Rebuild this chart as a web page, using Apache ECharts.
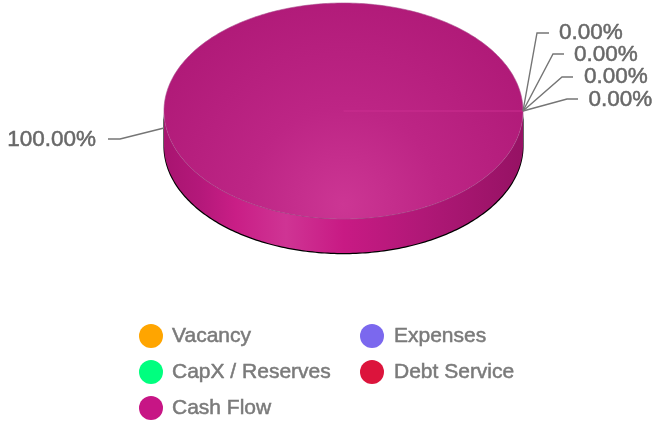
<!DOCTYPE html>
<html><head><meta charset="utf-8">
<style>html,body{margin:0;padding:0;background:#fff}#c{width:653px;height:421px}</style>
<script src="https://cdn.jsdelivr.net/npm/echarts@6/dist/echarts.min.js"></script>
</head><body><div id="c"></div>
<script>
const categories = ['Vacancy', 'Expenses', 'CapX / Reserves', 'Debt Service', 'Cash Flow'];
const values = [0, 0, 0, 0, 100];
const colors = ['#FFA500', '#7B68EE', '#00FF7F', '#DC143C', '#C71585'];
const legendLeft = ['Vacancy', 'CapX / Reserves', 'Cash Flow'];
const legendRight = ['Expenses', 'Debt Service'];

const FONT = '"Liberation Sans", Arial, sans-serif';
const PIE = {cx: 343.5, cy: 111, rx: 179.5, ry: 108, depth: 34};
const LEADERS = [
  {elbow: [537, 33], end: [549, 33], text: [559, 33], align: 'left'},
  {elbow: [553, 54], end: [564, 54], text: [574, 55], align: 'left'},
  {elbow: [562, 77], end: [573, 77], text: [584, 77], align: 'left'},
  {elbow: [567, 99], end: [578, 99], text: [588.5, 100], align: 'left'},
  {elbow: [120, 139], end: [108, 139], text: [96, 140], align: 'right'}
];
const total = values.reduce((a, b) => a + b, 0);
let run = 0;
const slices = values.map(v => {
  const s = {share: v / total, start: run / total * Math.PI * 2};
  run += v;
  s.end = run / total * Math.PI * 2;
  return s;
});
const pt = (a, dy, dr) => [PIE.cx + (PIE.rx + (dr || 0)) * Math.cos(a), PIE.cy + PIE.ry * Math.sin(a) + (dy || 0)];
const arc = (a0, a1, dy, dr) => {
  const n = Math.max(2, Math.ceil((a1 - a0) / (Math.PI / 180)));
  const out = [];
  for (let i = 0; i <= n; i++) out.push(pt(a0 + (a1 - a0) * i / n, dy, dr));
  return out;
};
const sideFill = {type: 'linear', x: PIE.cx - PIE.rx, y: 0, x2: PIE.cx + PIE.rx, y2: 0, global: true, colorStops: [
  {offset: 0, color: '#a81470'}, {offset: 0.1, color: '#b4187a'}, {offset: 0.2, color: '#c91e86'},
  {offset: 0.34, color: '#cf3494'}, {offset: 0.5, color: '#c81a84'}, {offset: 0.72, color: '#b01877'},
  {offset: 1, color: '#961264'}]};
const topFill = {type: 'radial', x: PIE.cx, y: 205, r: 215, global: true, colorStops: [
  {offset: 0, color: '#cc3694'}, {offset: 0.45, color: '#bd2585'}, {offset: 1, color: '#b01a78'}]};

function renderSlice(params, api) {
  const i = params.seriesIndex, s = slices[i], L = LEADERS[i], kids = [];
  const share = api.value(0);
  const mid = (s.start + s.end) / 2;
  if (share > 0) {
    const a0 = s.start, a1 = s.end;
    const front0 = Math.max(a0, 0), front1 = Math.min(a1, Math.PI);
    if (front1 > front0) {
      const top = arc(front0, front1, 0), bot = arc(front0, front1, PIE.depth);
      kids.push({type: 'polygon', shape: {points: arc(front0, front1, 0, 0.6).concat(arc(front0, front1, PIE.depth + 1.2, 0.6).reverse())}, style: {fill: '#000'}});
      kids.push({type: 'polygon', shape: {points: top.concat(bot.reverse())}, style: {fill: sideFill}});
    }
    const wedge = share >= 1 ? arc(a0, a1) : [[PIE.cx, PIE.cy]].concat(arc(a0, a1));
    kids.push({type: 'polygon', shape: {points: wedge}, style: {fill: topFill, stroke: '#a94c8c', lineWidth: 0.6}});
    kids.push({type: 'line', shape: {x1: PIE.cx, y1: PIE.cy, x2: pt(a0)[0], y2: pt(a0)[1]}, style: {stroke: '#cb2f90', lineWidth: 1}});
  }
  const anchor = pt(mid, share > 0 ? PIE.depth / 2 : 0);
  kids.push({type: 'polyline', z2: 5, shape: {points: [anchor, L.elbow, L.end]}, style: {stroke: '#757575', lineWidth: 1.4, fill: null}});
  kids.push({type: 'text', z2: 6, x: L.text[0], y: L.text[1], style: {
    text: (share * 100).toFixed(2) + '%', font: '22.5px ' + FONT, fill: '#686868',
    stroke: '#686868', lineWidth: 0.5,
    align: L.align, verticalAlign: 'middle'}});
  return {type: 'group', children: kids};
}

const legendBase = {orient: 'vertical', icon: 'circle', itemWidth: 24, itemHeight: 24, itemGap: 12,
  padding: 0, selectedMode: false, top: 324};
const legendText = pad => ({color: '#7a7a7a', fontFamily: FONT, fontSize: 21, textBorderColor: '#7a7a7a', textBorderWidth: 0.5, padding: [4, 0, 0, pad]});

const chart = echarts.init(document.getElementById('c'), null, {renderer: 'canvas'});
chart.setOption({
  animation: false,
  backgroundColor: '#ffffff',
  legend: [
    Object.assign({}, legendBase, {left: 139, data: legendLeft, textStyle: legendText(4)}),
    Object.assign({}, legendBase, {left: 360, data: legendRight, textStyle: legendText(5)})
  ],
  series: categories.map((name, i) => ({
    type: 'custom', coordinateSystem: 'none', name, renderItem: renderSlice, clip: false,
    z: i === 4 ? 1 : 2,
    itemStyle: {color: colors[i]},
    encode: {value: 0},
    data: [[slices[i].share]]
  }))
});
</script></body></html>
